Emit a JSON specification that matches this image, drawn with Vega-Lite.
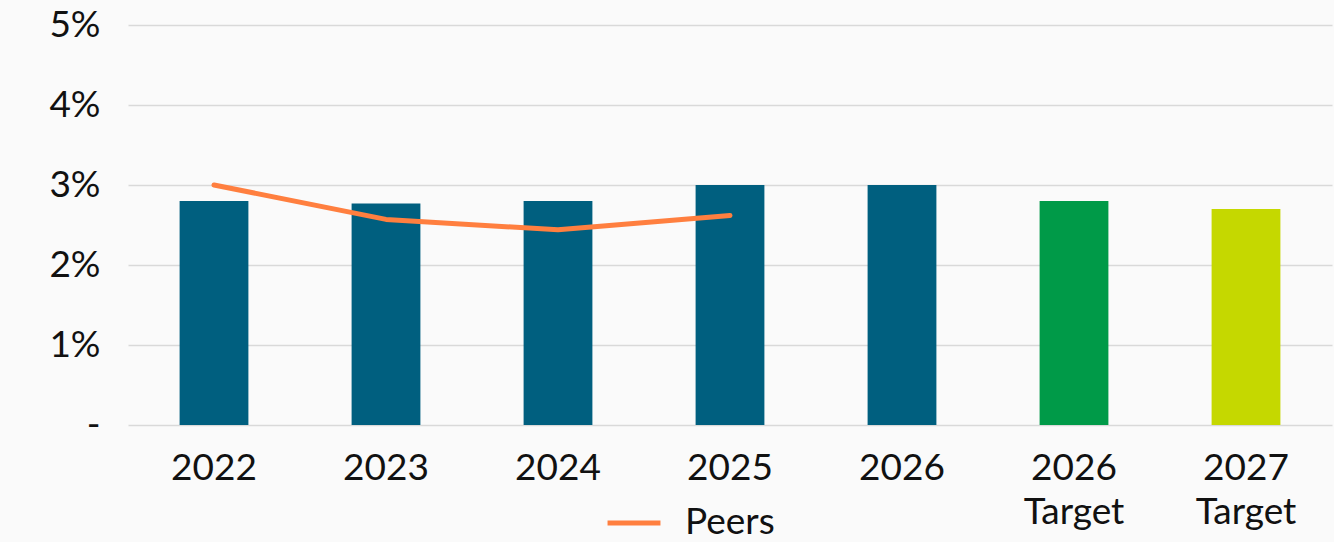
{
  "$schema": "https://vega.github.io/schema/vega-lite/v6.json",
  "autosize": "none",
  "width": 1204,
  "height": 400,
  "padding": {"left": 128, "top": 25, "right": 2, "bottom": 117},
  "background": "#fafafa",
  "config": {
    "view": {"stroke": null},
    "font": "Lato",
    "axis": {"labelFont": "Lato", "labelColor": "#111111", "labelFontSize": 37},
    "legend": {"labelFont": "Lato", "labelColor": "#111111"}
  },
  "data": {
    "values": [
      {"cat": "2022", "value": 2.8, "peers": 3.0, "group": "actual"},
      {"cat": "2023", "value": 2.77, "peers": 2.57, "group": "actual"},
      {"cat": "2024", "value": 2.8, "peers": 2.44, "group": "actual"},
      {"cat": "2025", "value": 3.0, "peers": 2.62, "group": "actual"},
      {"cat": "2026", "value": 3.0, "peers": null, "group": "actual"},
      {"cat": "2026 Target", "value": 2.8, "peers": null, "group": "target2026"},
      {"cat": "2027 Target", "value": 2.7, "peers": null, "group": "target2027"}
    ]
  },
  "encoding": {
    "x": {
      "field": "cat",
      "type": "nominal",
      "sort": null,
      "scale": {"paddingInner": 0.6, "paddingOuter": 0.3},
      "axis": {
        "title": null,
        "domain": false,
        "ticks": false,
        "labelAngle": 0,
        "labelPadding": 25,
        "labelLineHeight": 44,
        "labelExpr": "split(datum.label, ' ')"
      }
    }
  },
  "layer": [
    {
      "mark": {"type": "bar"},
      "encoding": {
        "y": {
          "field": "value",
          "type": "quantitative",
          "scale": {"domain": [0, 5], "nice": false},
          "axis": {
            "title": null,
            "values": [0, 1, 2, 3, 4, 5],
            "domain": false,
            "ticks": false,
            "labelPadding": 28,
            "gridColor": "#d9d9d9",
            "gridWidth": 1.6,
            "labelExpr": "datum.value == 0 ? '-' : datum.value + '%'"
          }
        },
        "color": {
          "field": "group",
          "type": "nominal",
          "scale": {
            "domain": ["actual", "target2026", "target2027"],
            "range": ["#005f7f", "#009a48", "#c5d800"]
          },
          "legend": null
        }
      }
    },
    {
      "transform": [{"filter": "datum.peers != null"}],
      "mark": {"type": "line", "strokeWidth": 5, "strokeCap": "round", "strokeJoin": "round"},
      "encoding": {
        "y": {"field": "peers", "type": "quantitative"},
        "stroke": {
          "datum": "Peers",
          "type": "nominal",
          "scale": {"range": ["#ff7f3f"]},
          "legend": {
            "title": null,
            "orient": "none",
            "legendX": 477,
            "legendY": 469,
            "symbolType": "stroke",
            "symbolSize": 2800,
            "symbolStrokeWidth": 5,
            "labelFontSize": 37,
            "labelOffset": 22
          }
        }
      }
    }
  ]
}
